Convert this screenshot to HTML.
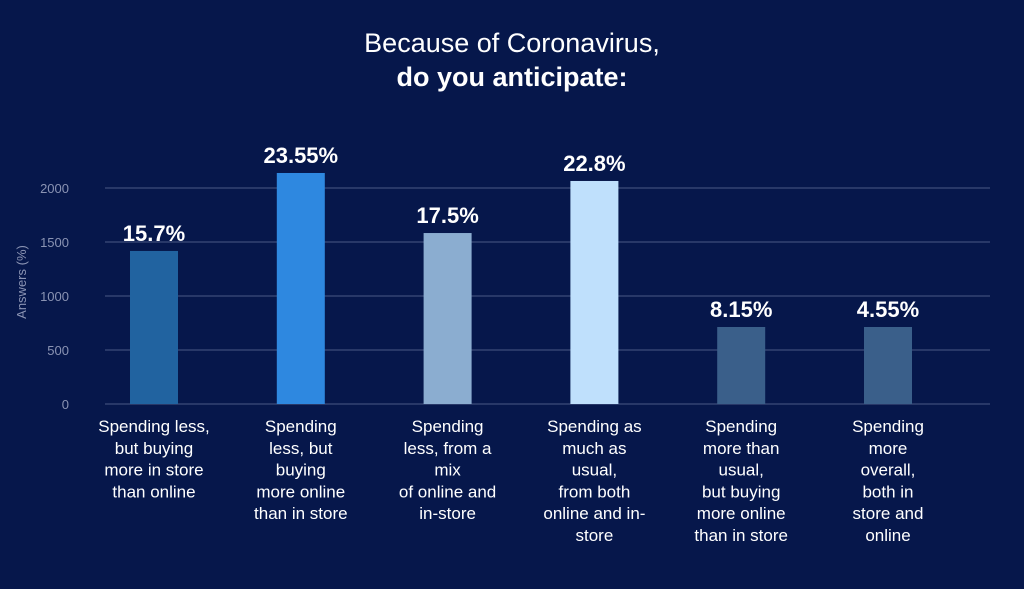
<!DOCTYPE html>
<html><head><meta charset="utf-8"><style>
body{margin:0;width:1024px;height:584px;background:#06174b;overflow:hidden;font-family:"Liberation Sans",sans-serif}
</style></head><body>
<svg width="1024" height="584">
<rect width="1024" height="584" fill="#06174b"/>
<text x="512" y="52" fill="#fff" font-size="27" text-anchor="middle">Because of Coronavirus,</text>
<text x="512" y="86" fill="#fff" font-size="27" font-weight="bold" text-anchor="middle">do you anticipate:</text>
<text transform="translate(26,282) rotate(-90)" fill="#8a93b3" font-size="13" text-anchor="middle">Answers (%)</text>
<g id="g"></g>
</svg>
<script>
const categories=[["Spending less,","but buying","more in store","than online"],["Spending","less, but","buying","more online","than in store"],["Spending","less, from a","mix","of online and","in-store"],["Spending as","much as","usual,","from both","online and in-","store"],["Spending","more than","usual,","but buying","more online","than in store"],["Spending","more","overall,","both in","store and","online"]];
const values=[1417,2139,1583,2065,713,713];
const labels=["15.7%","23.55%","17.5%","22.8%","8.15%","4.55%"];
const ticks=[0,500,1000,1500,2000];
const colors=["#2163a0","#2e88e0","#8badd0","#bfe0fc","#3a5f8a","#3a5f8a"];
const ns="http://www.w3.org/2000/svg",g=document.getElementById("g");
const y=v=>404-v*0.108, cx=i=>154+i*146.8;
function mk(t,a){const e=document.createElementNS(ns,t);for(const k in a)e.setAttribute(k,a[k]);g.appendChild(e);return e;}
ticks.forEach(t=>{
 const l=mk("line",{x1:105,x2:990,y1:y(t),y2:y(t),stroke:"#4a5a85","stroke-width":1});
 
 
 const tx=mk("text",{x:69,y:y(t)+5,fill:"#8a93b3","font-size":13,"text-anchor":"end"});tx.textContent=t;
 
 
});
values.forEach((v,i)=>{
 const r=mk("rect",{x:cx(i)-24,y:y(v),width:48,height:404-y(v),fill:colors[i]});
 
 
 const t=mk("text",{x:cx(i),y:y(v)-10,fill:"#fff","font-size":22,"font-weight":"bold","text-anchor":"middle"});t.textContent=labels[i];
 
 
 categories[i].forEach((s,j)=>{
  const c=mk("text",{x:cx(i),y:432+j*21.8,fill:"#fff","font-size":17,"text-anchor":"middle"});c.textContent=s;
  
  
 });
});
</script>
</body></html>
